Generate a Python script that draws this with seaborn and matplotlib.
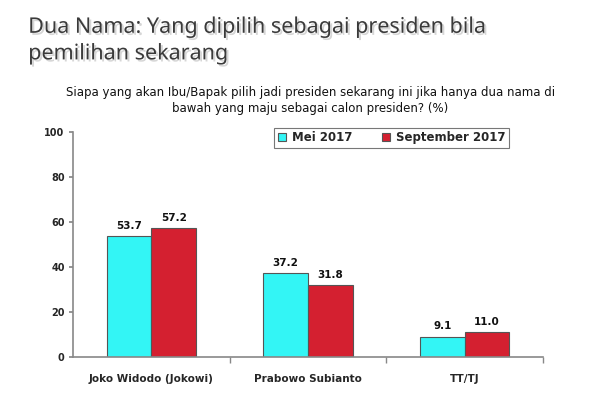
import matplotlib
matplotlib.use("Agg")
import matplotlib.pyplot as plt
import matplotlib.patheffects as pe
import seaborn as sns
import pandas as pd

categories = ["Joko Widodo (Jokowi)", "Prabowo Subianto", "TT/TJ"]
series = ["Mei 2017", "September 2017"]
mei_2017 = [53.7, 37.2, 9.1]
sep_2017 = [57.2, 31.8, 11.0]
yticks = [0, 20, 40, 60, 80, 100]

df = pd.DataFrame({
    "cat": categories * 2,
    "series": [series[0]] * 3 + [series[1]] * 3,
    "val": mei_2017 + sep_2017,
})

sns.set_theme(style="white")
plt.rcParams["font.family"] = ["DejaVu Sans"]

fig = plt.figure(figsize=(6, 4), dpi=100)
ax = fig.add_axes([0.1217, 0.1075, 0.7833, 0.5625])

palette = {series[0]: "#33f5f5", series[1]: "#d42030"}
sns.barplot(data=df, x="cat", y="val", hue="series", palette=palette,
            width=0.57, gap=0, edgecolor="#555555", linewidth=0.8,
            saturation=1, ax=ax, legend=True)

for cont in ax.containers:
    ax.bar_label(cont, fmt="%.1f", padding=4, fontsize=7.5, fontweight="bold", color="#111111")

ax.set_xlim(-0.5, 2.5)
ax.set_ylim(0, 100)
ax.set_yticks(yticks)
ax.set_yticklabels([str(v) for v in yticks], fontsize=7, fontweight="bold")
ax.set_xticks(range(3))
ax.set_xticklabels(categories, fontsize=7.5, fontweight="bold")
ax.tick_params(axis="x", which="major", length=0, pad=12)
ax.set_xticks([0.5, 1.5, 2.5], minor=True)
ax.tick_params(axis="x", which="minor", length=4, color="#888888", direction="out", bottom=True)
ax.tick_params(axis="y", length=3, color="#888888", direction="out", left=True, pad=3)
ax.set_xlabel("")
ax.set_ylabel("")
for s in ["top", "right"]:
    ax.spines[s].set_visible(False)
for s in ["left", "bottom"]:
    ax.spines[s].set_color("#888888")
    ax.spines[s].set_linewidth(1.2)

leg = ax.legend(loc="upper left", bbox_to_anchor=(0.415, 1.045), ncol=2, frameon=True,
                fancybox=False, edgecolor="#555555", fontsize=8.5,
                handlelength=0.7, handleheight=0.7, columnspacing=2.5,
                borderpad=0.3, handletextpad=0.5)
for t in leg.get_texts():
    t.set_fontweight("bold")
leg.get_frame().set_linewidth(0.8)

fig.text(0.047, 0.958, "Dua Nama: Yang dipilih sebagai presiden bila\npemilihan sekarang",
         fontsize=15.5, family=["Noto Sans", "DejaVu Sans"], color="#3a3a3a",
         va="top", ha="left", linespacing=1.35,
         path_effects=[pe.withSimplePatchShadow(offset=(1.5, -1.5), shadow_rgbFace="#bbbbbb", alpha=0.6)])

fig.text(0.517, 0.785, "Siapa yang akan Ibu/Bapak pilih jadi presiden sekarang ini jika hanya dua nama di\nbawah yang maju sebagai calon presiden? (%)",
         fontsize=8.5, color="#111111", ha="center", va="top", linespacing=1.3)

fig.savefig("out.png", dpi=100)
